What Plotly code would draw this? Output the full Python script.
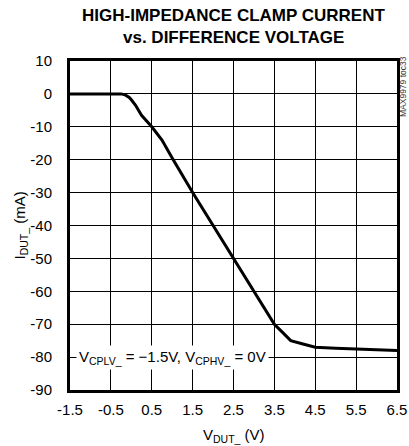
import plotly.graph_objects as go

v_dut = [-1.5, -0.5, -0.25, -0.15, -0.05, 0.0, 0.1, 0.25, 0.35, 0.42, 0.5, 0.75, 1.0, 1.5,
         2.0, 2.5, 3.0, 3.5, 3.7, 3.9, 4.2, 4.5, 5.0, 5.5, 5.8, 6.5]
i_dut = [0.0, 0.0, 0.0, -0.3, -1.1, -1.8, -3.4, -6.5, -7.9, -8.8, -10.0, -14.0, -19.5, -30.0,
         -40.0, -50.0, -60.0, -70.0, -72.5, -75.0, -76.0, -77.0, -77.3, -77.5, -77.8, -78.0]

x_ticks = [-1.5, -0.5, 0.5, 1.5, 2.5, 3.5, 4.5, 5.5, 6.5]
x_tick_labels = ["-1.5", "-0.5", "0.5", "1.5", "2.5", "3.5", "4.5", "5.5", "6.5"]
y_ticks = [10, 0, -10, -20, -30, -40, -50, -60, -70, -80, -90]
y_tick_labels = ["10", "0", "-10", "-20", "-30", "-40", "-50", "-60", "-70", "-80", "-90"]

FONT = "Liberation Sans, Arial, sans-serif"

fig = go.Figure()
fig.add_trace(go.Scatter(x=v_dut, y=i_dut, mode="lines",
                         line=dict(color="black", width=3),
                         hoverinfo="skip", showlegend=False))

fig.update_layout(
    width=409, height=446,
    margin=dict(l=70, r=12, t=61, b=56, autoexpand=False),
    paper_bgcolor="white", plot_bgcolor="white",
    font=dict(family=FONT, size=15, color="black"),
    showlegend=False,
)
fig.update_xaxes(range=[-1.5, 6.5], tickvals=x_ticks, ticktext=x_tick_labels,
                 showgrid=True, gridcolor="black", gridwidth=1,
                 showline=True, linecolor="black", linewidth=3, mirror=True,
                 ticks="", zeroline=False, automargin=False,
                 ticklabelstandoff=4,
                 tickfont=dict(family=FONT, size=15))
fig.update_yaxes(range=[-90, 10], tickvals=y_ticks, ticktext=y_tick_labels,
                 showgrid=True, gridcolor="black", gridwidth=1,
                 showline=True, linecolor="black", linewidth=3, mirror=True,
                 ticks="", zeroline=False, automargin=False,
                 ticklabelstandoff=12,
                 tickfont=dict(family=FONT, size=15))

fig.add_annotation(text="<b>HIGH-IMPEDANCE CLAMP CURRENT</b>", xref="paper", yref="paper",
                   x=0.5, y=1, xanchor="center", yanchor="middle", yshift=46,
                   showarrow=False, font=dict(family=FONT, size=17, color="black"))
fig.add_annotation(text="<b>vs. DIFFERENCE VOLTAGE</b>", xref="paper", yref="paper",
                   x=0.5, y=1, xanchor="center", yanchor="middle", yshift=24,
                   showarrow=False, font=dict(family=FONT, size=17, color="black"))
fig.add_annotation(text="I<sub>DUT_</sub> (mA)", xref="paper", yref="paper",
                   x=0, y=0.5, xanchor="center", yanchor="middle", xshift=-50,
                   textangle=-90, showarrow=False,
                   font=dict(family=FONT, size=15, color="black"))
fig.add_annotation(text="V<sub>DUT_</sub> (V)", xref="paper", yref="paper",
                   x=0.5, y=0, xanchor="center", yanchor="middle", yshift=-45,
                   showarrow=False, font=dict(family=FONT, size=15, color="black"))
fig.add_annotation(text="V<sub>CPLV_</sub> = −1.5V, V<sub>CPHV_</sub> = 0V",
                   x=-1.36, y=-80, xref="x", yref="y", xanchor="left", yanchor="middle",
                   showarrow=False, bgcolor="white", borderpad=2,
                   font=dict(family=FONT, size=15, color="black"))
fig.add_annotation(text="MAX9979 toc33", xref="paper", yref="paper",
                   x=1, y=1, xanchor="center", yanchor="middle", xshift=6, yshift=-26,
                   textangle=-90, showarrow=False,
                   font=dict(family=FONT, size=8.5, color="#333333"))

fig.write_html("out.html", config={"displayModeBar": False},
               post_script="document.body.style.margin='0';document.body.style.padding='0';")
